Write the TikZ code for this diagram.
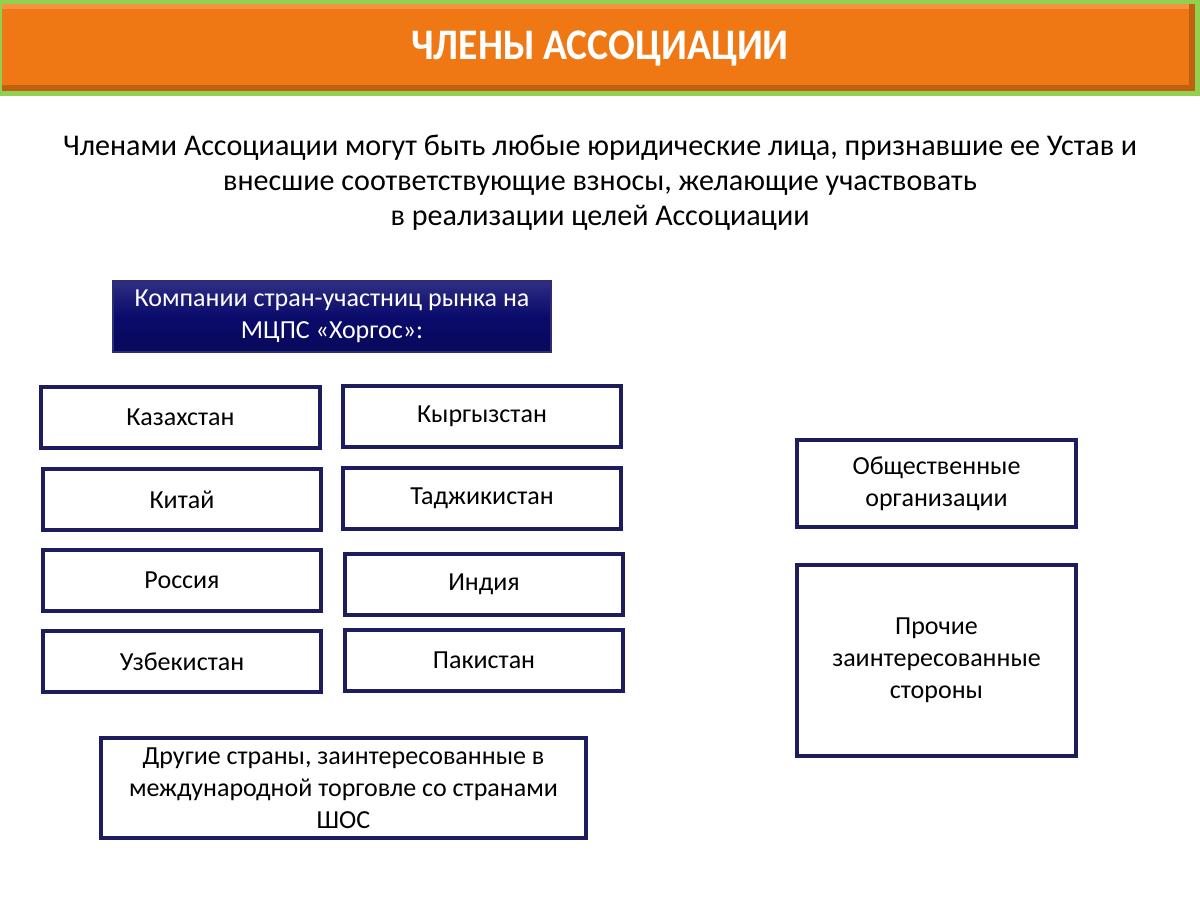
\documentclass[tikz,border=0pt]{standalone}
\usepackage{fontspec}
\setmainfont{Carlito}
\usetikzlibrary{shadows,fit}
\definecolor{hdrorange}{HTML}{F07814}
\definecolor{hdrgreen}{HTML}{92D050}
\definecolor{navy}{HTML}{1C1C5E}
\definecolor{darkbox}{HTML}{0A0A6C}
\tikzset{
  px/.style={x=0.25mm,y=-0.25mm},
  cbox/.style={draw=navy,line width=2.2pt,fill=white,align=center,inner sep=0pt,
    drop shadow={shadow xshift=0.6pt,shadow yshift=-0.6pt,opacity=0.25}},
  boxtext/.style={align=center,font=\fontsize{18.5}{22.8}\selectfont},
  bodytext/.style={align=center,font=\fontsize{21.4}{24.9}\selectfont},
}
\newcommand{\mybox}[6]{% name, x1, y1, x2, y2, text
  \path (#2,#3) coordinate (#1-a) (#4,#5) coordinate (#1-b);
  \node[cbox,fit=(#1-a)(#1-b)] (#1) {};
  \node[boxtext] (#1-t) at (#1.center) {#6};
}
\begin{document}
\begin{tikzpicture}[px]
\useasboundingbox (0,0) rectangle (1200,900);
% header
\fill[hdrgreen] (0,0) rectangle (1200,96);
\fill[hdrorange!80!black] (2,4) rectangle (1195,91);
\fill[hdrorange] (2,4) rectangle (1189,85);
\fill[hdrorange!80!white] (2,4) rectangle (1189,9);
\node[font=\fontsize{31}{36}\selectfont\bfseries,text=white,xscale=0.91] (title) at (600,49) {ЧЛЕНЫ АССОЦИАЦИИ};
% intro text
\node[bodytext] (intro) at (600,183) {Членами Ассоциации могут быть любые юридические лица, признавшие ее Устав и\\внесшие соответствующие взносы, желающие участвовать\\в реализации целей Ассоциации};
% dark box
\path (113,281) coordinate (hk-a) (551,352) coordinate (hk-b);
\node[fit=(hk-a)(hk-b),inner sep=0pt,draw=darkbox!70!gray,line width=1pt,
  top color=darkbox!85!white,bottom color=darkbox!85!black,middle color=darkbox,
  drop shadow={shadow xshift=1pt,shadow yshift=-1pt,opacity=0.3}] (hk) {};
\node[boxtext,text=white] (hk-t) at (hk.center) {Компании стран-участниц рынка на\\МЦПС «Хоргос»:};
% country boxes
\mybox{kz}{41}{387}{320}{448}{Казахстан}
\mybox{kg}{343}{386}{621}{447}{Кыргызстан}
\mybox{cn}{43}{469}{321}{530}{Китай}
\mybox{tj}{343}{468}{621}{529}{Таджикистан}
\mybox{ru}{43}{550}{321}{611}{Россия}
\mybox{in}{345}{554}{623}{615}{Индия}
\mybox{uz}{43}{631}{321}{692}{Узбекистан}
\mybox{pk}{345}{630}{623}{691}{Пакистан}
\mybox{other}{101}{738}{586}{838}{Другие страны, заинтересованные в\\международной торговле со странами\\ШОС}
\mybox{org}{797}{440}{1076}{527}{Общественные\\организации}
\mybox{rest}{797}{565}{1076}{756}{Прочие\\заинтересованные\\стороны}
\end{tikzpicture}
\end{document}
